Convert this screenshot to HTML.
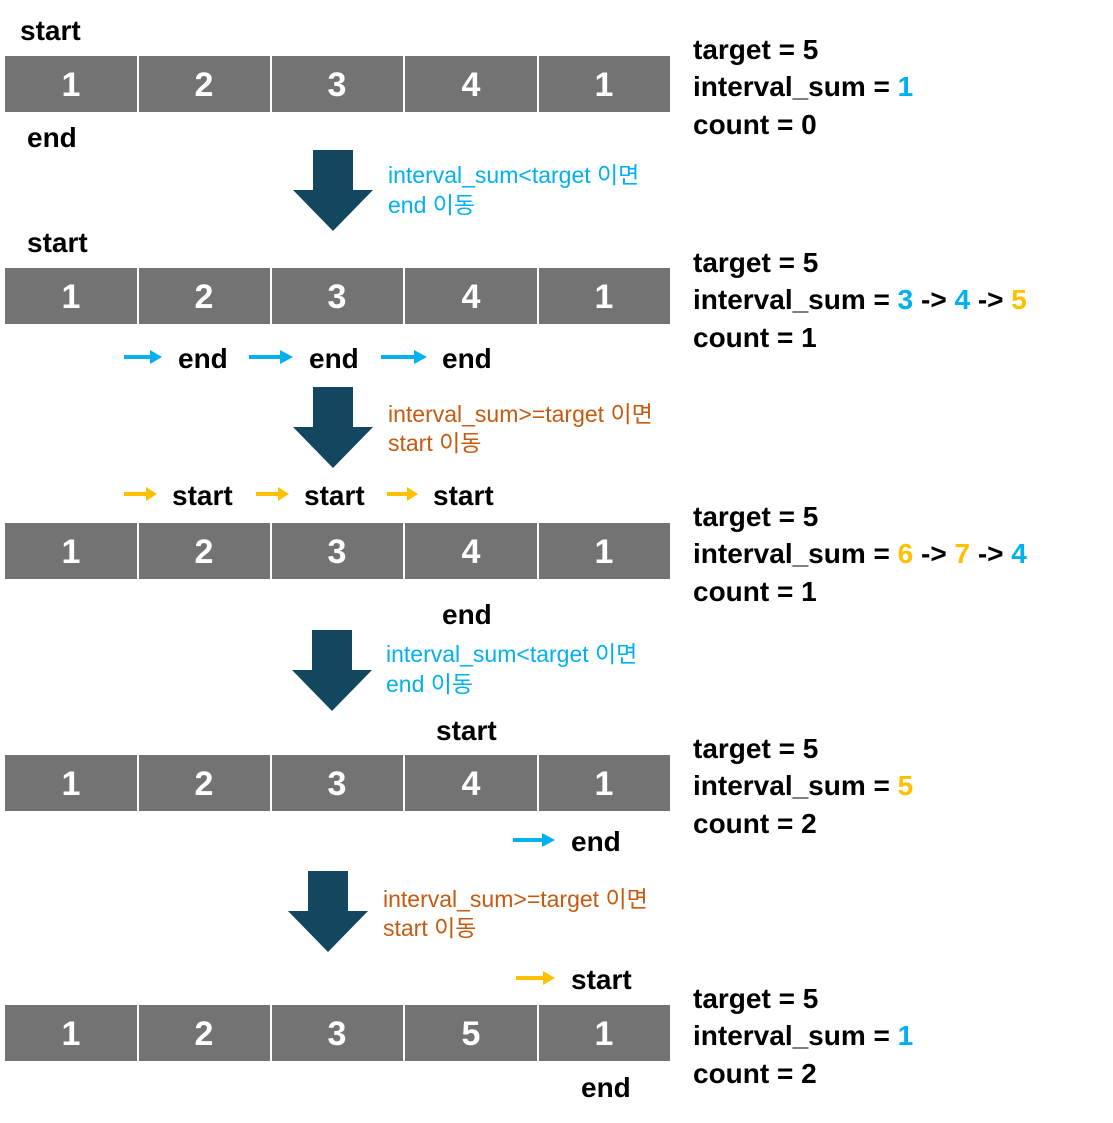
<!DOCTYPE html>
<html><head><meta charset="utf-8"><style>
html,body{margin:0;padding:0;background:#fff;}
svg{display:block;}
.b{font-family:"Liberation Sans","Noto Sans CJK KR",sans-serif;font-weight:bold;font-size:28px;fill:#000;}
.n{font-family:"Liberation Sans",sans-serif;font-weight:bold;font-size:34px;fill:#fff;text-anchor:middle;}
.a{font-family:"Liberation Sans","Noto Sans CJK KR",sans-serif;font-size:23px;}
.bl{fill:#00b0f0}.yl{fill:#ffc000}.rd{fill:#c55a11}
</style></head><body>
<svg width="1113" height="1123" viewBox="0 0 1113 1123" xmlns="http://www.w3.org/2000/svg">
<defs>
<g id="row">
<rect x="5" y="0" width="132" height="56" fill="#737373"/>
<rect x="139" y="0" width="131" height="56" fill="#737373"/>
<rect x="272" y="0" width="131" height="56" fill="#737373"/>
<rect x="405" y="0" width="132" height="56" fill="#737373"/>
<rect x="539" y="0" width="131" height="56" fill="#737373"/>
</g>
<g id="big"><rect x="20" y="0" width="40" height="41" fill="#134760"/><polygon points="0,40 80,40 40,81" fill="#134760"/></g>
</defs>

<!-- rows -->
<g transform="translate(0,56)"><use href="#row"/><text class="n" x="71" y="40">1</text><text class="n" x="204" y="40">2</text><text class="n" x="337" y="40">3</text><text class="n" x="471" y="40">4</text><text class="n" x="604" y="40">1</text></g>
<g transform="translate(0,268)"><use href="#row"/><text class="n" x="71" y="40">1</text><text class="n" x="204" y="40">2</text><text class="n" x="337" y="40">3</text><text class="n" x="471" y="40">4</text><text class="n" x="604" y="40">1</text></g>
<g transform="translate(0,523)"><use href="#row"/><text class="n" x="71" y="40">1</text><text class="n" x="204" y="40">2</text><text class="n" x="337" y="40">3</text><text class="n" x="471" y="40">4</text><text class="n" x="604" y="40">1</text></g>
<g transform="translate(0,755)"><use href="#row"/><text class="n" x="71" y="40">1</text><text class="n" x="204" y="40">2</text><text class="n" x="337" y="40">3</text><text class="n" x="471" y="40">4</text><text class="n" x="604" y="40">1</text></g>
<g transform="translate(0,1005)"><use href="#row"/><text class="n" x="71" y="40">1</text><text class="n" x="204" y="40">2</text><text class="n" x="337" y="40">3</text><text class="n" x="471" y="40">5</text><text class="n" x="604" y="40">1</text></g>

<!-- big arrows -->
<use href="#big" transform="translate(293,150)"/>
<use href="#big" transform="translate(293,387)"/>
<use href="#big" transform="translate(292,630)"/>
<use href="#big" transform="translate(288,871)"/>

<!-- block 1 -->
<text class="b" x="20" y="40">start</text>
<text class="b" x="27" y="147">end</text>
<text class="b" x="693" y="59">target  =  5</text>
<text class="b" x="693" y="96">interval_sum  =  <tspan class="bl">1</tspan></text>
<text class="b" x="693" y="134">count  =  0</text>
<text class="a bl" x="388" y="183">interval_sum&lt;target 이면</text>
<text class="a bl" x="388" y="213">end 이동</text>

<!-- block 2 -->
<text class="b" x="27" y="252">start</text>
<text class="b" x="693" y="272">target  =  5</text>
<text class="b" x="693" y="309">interval_sum  =  <tspan class="bl">3</tspan>  -&gt;  <tspan class="bl">4</tspan>  -&gt;  <tspan class="yl">5</tspan></text>
<text class="b" x="693" y="347">count  =  1</text>
<g fill="#00b0f0">
<rect x="124" y="355" width="28" height="4"/><polygon points="150,350 162,357 150,364"/>
<rect x="249" y="355" width="32" height="4"/><polygon points="280,350 293,357 280,364"/>
<rect x="381" y="355" width="34" height="4"/><polygon points="414,350 427,357 414,364"/>
</g>
<text class="b" x="178" y="368">end</text>
<text class="b" x="309" y="368">end</text>
<text class="b" x="442" y="368">end</text>
<text class="a rd" x="388" y="422">interval_sum&gt;=target 이면</text>
<text class="a rd" x="388" y="451">start 이동</text>

<!-- block 3 -->
<g fill="#ffc000">
<rect x="124" y="492" width="24" height="4"/><polygon points="146,487 157,494 146,501"/>
<rect x="256" y="492" width="24" height="4"/><polygon points="278,487 289,494 278,501"/>
<rect x="387" y="492" width="22" height="4"/><polygon points="407,487 418,494 407,501"/>
</g>
<text class="b" x="172" y="505">start</text>
<text class="b" x="304" y="505">start</text>
<text class="b" x="433" y="505">start</text>
<text class="b" x="693" y="526">target  =  5</text>
<text class="b" x="693" y="563">interval_sum  =  <tspan class="yl">6</tspan>  -&gt;  <tspan class="yl">7</tspan>  -&gt;  <tspan class="bl">4</tspan></text>
<text class="b" x="693" y="601">count  =  1</text>
<text class="b" x="442" y="624">end</text>
<text class="a bl" x="386" y="662">interval_sum&lt;target 이면</text>
<text class="a bl" x="386" y="692">end 이동</text>

<!-- block 4 -->
<text class="b" x="436" y="740">start</text>
<text class="b" x="693" y="758">target  =  5</text>
<text class="b" x="693" y="795">interval_sum  =  <tspan class="yl">5</tspan></text>
<text class="b" x="693" y="833">count  =  2</text>
<g fill="#00b0f0"><rect x="513" y="838" width="30" height="4"/><polygon points="542,833 555,840 542,847"/></g>
<text class="b" x="571" y="851">end</text>
<text class="a rd" x="383" y="907">interval_sum&gt;=target 이면</text>
<text class="a rd" x="383" y="936">start 이동</text>

<!-- block 5 -->
<g fill="#ffc000"><rect x="516" y="976" width="28" height="4"/><polygon points="543,971 555,978 543,985"/></g>
<text class="b" x="571" y="989">start</text>
<text class="b" x="693" y="1008">target  =  5</text>
<text class="b" x="693" y="1045">interval_sum  =  <tspan class="bl">1</tspan></text>
<text class="b" x="693" y="1083">count  =  2</text>
<text class="b" x="581" y="1097">end</text>
</svg>
</body></html>
